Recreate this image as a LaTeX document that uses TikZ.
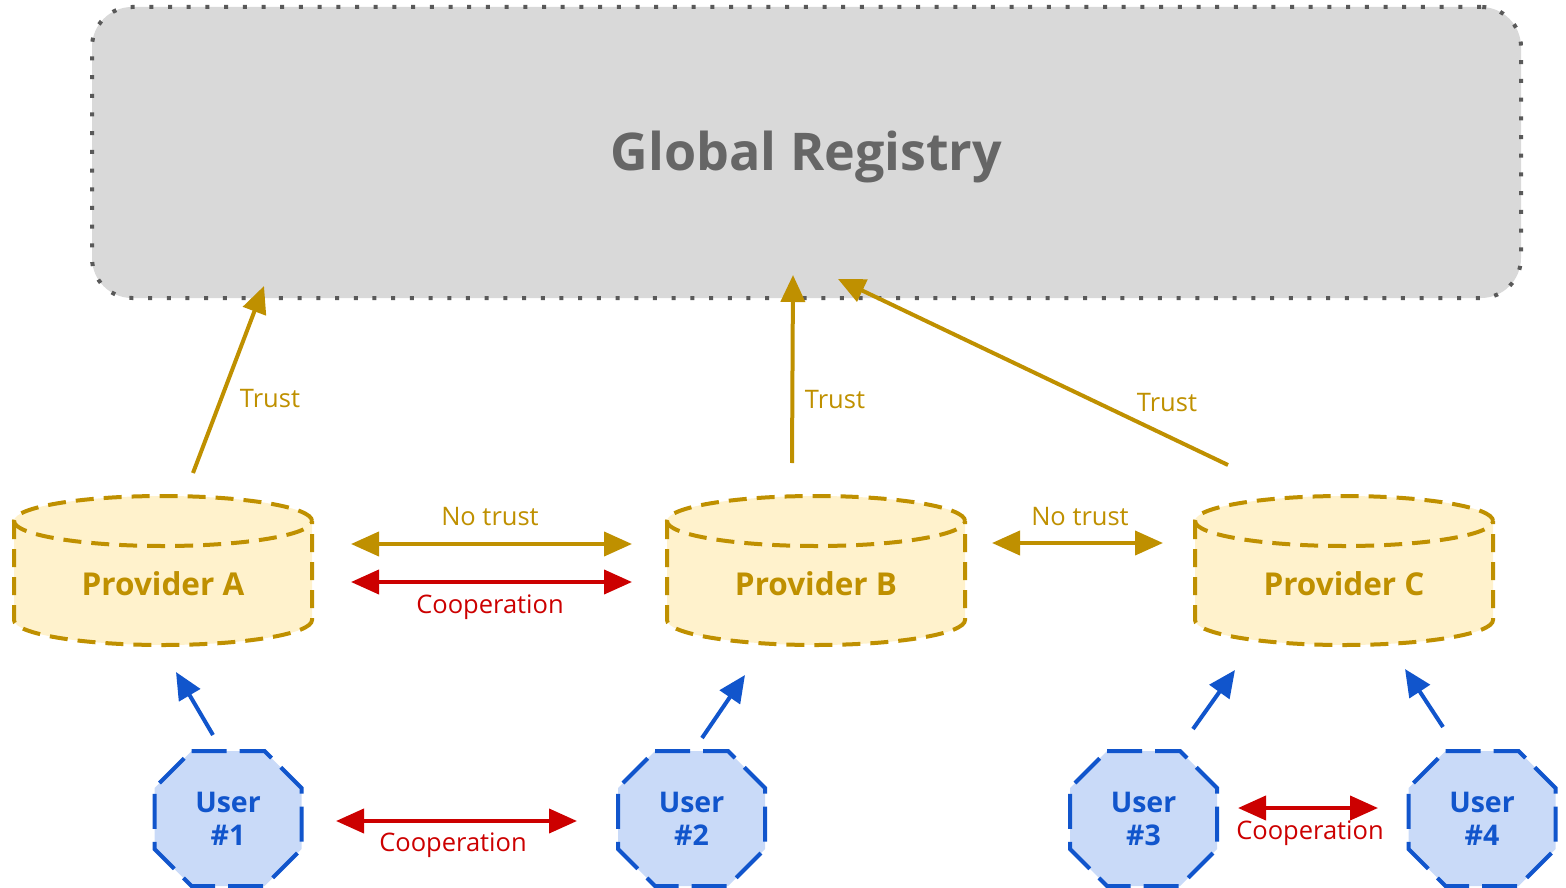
\documentclass[tikz,border=0pt]{standalone}
\usepackage{fontspec}
\setmainfont{Open Sans}
\usetikzlibrary{arrows.meta}

\definecolor{gold}{HTML}{BF9000}
\definecolor{provfill}{HTML}{FFF2CC}
\definecolor{userblue}{HTML}{1155CC}
\definecolor{userfill}{HTML}{C9DAF8}
\definecolor{coopred}{HTML}{CC0000}
\definecolor{regfill}{HTML}{D9D9D9}
\definecolor{regline}{HTML}{595959}
\definecolor{regtext}{HTML}{666666}

\tikzset{
  registry/.style={draw=regline, fill=regfill, line width=4pt, dash pattern=on 4pt off 14.7pt,
    rounded corners=40pt, minimum width=1429pt, minimum height=291pt,
    text=regtext, font=\fontsize{52}{60}\selectfont\bfseries},
  provline/.style={draw=gold, line width=4pt, dash pattern=on 18pt off 10pt},
  provtext/.style={text=gold, font=\fontsize{31.5}{36}\selectfont\bfseries},
  userline/.style={draw=userblue, fill=userfill, line width=4pt, dash pattern=on 35pt off 13pt},
  usertext/.style={align=center, text=userblue, font=\fontsize{28.5}{33}\selectfont\bfseries},
  lbl/.style={font=\fontsize{25.5}{30}\selectfont},
  trust/.style={-{Triangle[length=27pt,width=24pt]}, line width=4pt, gold},
  notrust/.style={{Triangle[length=28pt,width=24pt]}-{Triangle[length=28pt,width=24pt]}, line width=4pt, gold},
  coop/.style={{Triangle[length=28pt,width=24pt]}-{Triangle[length=28pt,width=24pt]}, line width=4pt, coopred},
  useredge/.style={-{Triangle[length=27pt,width=24pt]}, line width=4pt, userblue}
}

\begin{document}
\begin{tikzpicture}[x=1pt, y=1pt]
  \useasboundingbox (0,0) rectangle (1566,-888);

  % Registry
  \node[registry] (reg) at (806.5,-152.5) {\raisebox{-4pt}[\height][\depth]{Global Registry}};

  % Providers
  \foreach \cx/\nm/\id in {163/pA/A, 816/pB/B, 1344/pC/C}{
    \fill[provfill] (\cx-149,-521) -- (\cx-149,-620) arc[start angle=180, end angle=360, x radius=149, y radius=25]
      -- (\cx+149,-521) arc[start angle=0, end angle=180, x radius=149, y radius=25] -- cycle;
    \draw[provline] (\cx-149,-521) -- (\cx-149,-620) arc[start angle=180, end angle=360, x radius=149, y radius=25]
      -- (\cx+149,-521);
    \draw[provline] (\cx,-521) ellipse[x radius=149, y radius=25];
    \node[provtext] (\nm) at (\cx,-584) {Provider \id};
  }

  % Users
  \foreach \ux/\nm/\k in {228/u1/1, 691.5/u2/2, 1143.5/u3/3, 1482/u4/4}{
    \draw[userline] (\ux-36.5,-751) -- (\ux+36.5,-751) -- (\ux+73.5,-788) -- (\ux+73.5,-849)
      -- (\ux+36.5,-886) -- (\ux-36.5,-886) -- (\ux-73.5,-849) -- (\ux-73.5,-788) -- cycle;
    \node[usertext] (\nm) at (\ux,-818.5) {User\\\#\k};
  }

  % Arrow ends
  \coordinate (trA0) at (193,-473);  \coordinate (trA1) at (264,-286);
  \coordinate (trB0) at (792,-463);  \coordinate (trB1) at (793,-275);
  \coordinate (trC0) at (1228,-465); \coordinate (trC1) at (838,-279);
  \coordinate (ntAB0) at (351,-544); \coordinate (ntAB1) at (632,-544);
  \coordinate (cpAB0) at (351,-582); \coordinate (cpAB1) at (632,-582);
  \coordinate (ntBC0) at (992,-543); \coordinate (ntBC1) at (1163,-543);
  \coordinate (up10) at (213,-735);  \coordinate (up11) at (176,-672);
  \coordinate (up20) at (702,-738);  \coordinate (up21) at (745,-675);
  \coordinate (up30) at (1193,-729); \coordinate (up31) at (1235,-670);
  \coordinate (up40) at (1443,-727); \coordinate (up41) at (1405,-669);
  \coordinate (cp120) at (336,-821); \coordinate (cp121) at (577,-821);
  \coordinate (cp340) at (1238,-808); \coordinate (cp341) at (1378,-808);

  % Trust
  \draw[trust] (trA0) -- (trA1);
  \draw[trust] (trB0) -- (trB1);
  \draw[trust] (trC0) -- (trC1);
  \node[lbl, text=gold] (lA) at (270,-399) {Trust};
  \node[lbl, text=gold] (lB) at (835,-400) {Trust};
  \node[lbl, text=gold] (lC) at (1167,-403) {Trust};

  % Between providers
  \draw[notrust] (ntAB0) -- (ntAB1);
  \draw[coop] (cpAB0) -- (cpAB1);
  \draw[notrust] (ntBC0) -- (ntBC1);
  \node[lbl, text=gold] (lntAB) at (490,-517) {No trust};
  \node[lbl, text=coopred] (lcpAB) at (490,-607) {Cooperation};
  \node[lbl, text=gold] (lntBC) at (1080,-517) {No trust};

  % Users to providers
  \draw[useredge] (up10) -- (up11);
  \draw[useredge] (up20) -- (up21);
  \draw[useredge] (up30) -- (up31);
  \draw[useredge] (up40) -- (up41);

  % Between users
  \draw[coop] (cp120) -- (cp121);
  \draw[coop] (cp340) -- (cp341);
  \node[lbl, text=coopred] (lcp12) at (453,-845) {Cooperation};
  \node[lbl, text=coopred] (lcp34) at (1310,-833) {Cooperation};
\end{tikzpicture}
\end{document}
